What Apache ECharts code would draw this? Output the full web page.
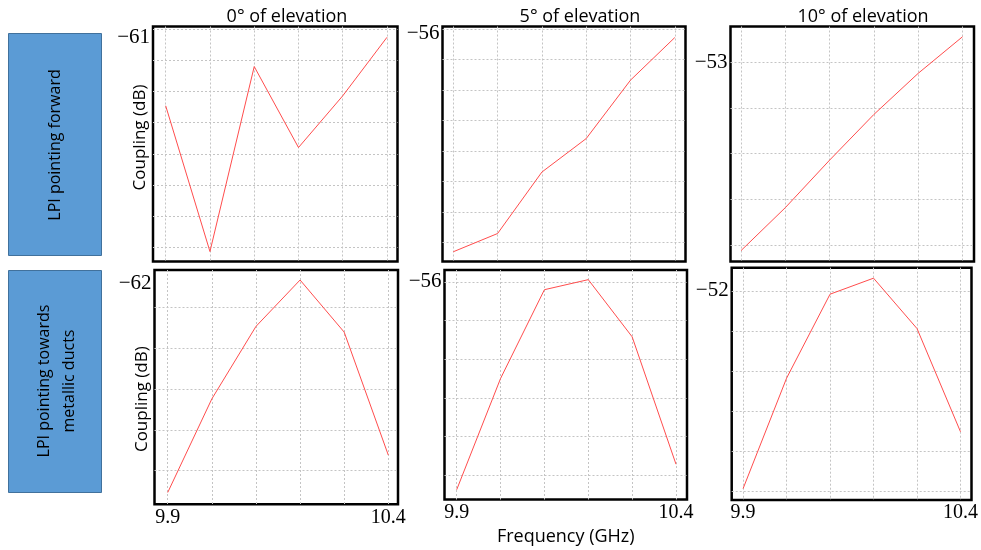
<!DOCTYPE html>
<html>
<head>
<meta charset="utf-8">
<script src="https://cdn.jsdelivr.net/npm/echarts@6/dist/echarts.min.js"></script>
<style>
html,body{margin:0;padding:0;background:#fff;}
#chart{width:981px;height:550px;}
</style>
</head>
<body>
<div id="chart"></div>
<script>
// ---- data ----
const freq = [9.9, 10.0, 10.1, 10.2, 10.3, 10.4];
const fwd0  = [-62.10, -64.44, -61.47, -62.77, -61.94, -61.00];
const fwd5  = [-59.59, -59.29, -58.28, -57.73, -56.77, -56.07];
const fwd10 = [-55.06, -54.59, -54.07, -53.57, -53.12, -52.72];
const duct0  = [-64.57, -63.42, -62.53, -61.96, -62.60, -64.11];
const duct5  = [-58.69, -57.25, -56.10, -55.97, -56.71, -58.36];
const duct10 = [-54.47, -53.09, -52.04, -51.84, -52.47, -53.76];

const titles = ['0° of elevation', '5° of elevation', '10° of elevation'];
const rowLabels = ['LPI pointing forward', 'LPI pointing towards\nmetallic ducts'];
const yLabelValues = [-61, -56, -53, -62, -56, -52];
const xLabelValues = [9.9, 10.4];
const yGridValues = [
  [-60.872, -61.372, -61.872, -62.372, -62.872, -63.372, -63.872, -64.372],
  [-55.934, -56.434, -56.934, -57.434, -57.934, -58.434, -58.934, -59.434],
  [-53, -53.5, -54, -54.5, -55],
  [-62.3, -62.8, -63.3, -63.8, -64.3],
  [-56, -56.5, -57, -57.5, -58, -58.5],
  [-52, -52.5, -53, -53.5, -54, -54.5]
];
const seriesData = [fwd0, fwd5, fwd10, duct0, duct5, duct10];

// ---- layout (positions / extents) ----
const panels = [
  {rect:[153,26.5,244.5,235], x:[9.8713,10.4237], y:[-64.600,-60.827]},
  {rect:[442.5,26.5,243,235], x:[9.8756,10.4242], y:[-59.750,-55.888]},
  {rect:[730.5,26.5,243.5,235], x:[9.8763,10.4259], y:[-55.179,-52.608]},
  {rect:[154.5,270,243.5,234.3], x:[9.870,10.422], y:[-64.715,-61.837]},
  {rect:[444.5,270,242.5,229.5], x:[9.8722,10.4251], y:[-58.817,-55.845]},
  {rect:[731.7,267.7,243.8,232.3], x:[9.8738,10.4253], y:[-54.6125,-51.709]}
];
const titleCenters = [282, 575, 858];

const serif = '"Liberation Serif", "DejaVu Serif", serif';
const sans = '"Open Sans", "Noto Sans", sans-serif';
const gridLineStyle = {color:'#c4c4c4', width:1, type:[2,2]};

const grids = [], xAxes = [], yAxes = [], series = [];
panels.forEach((p, i) => {
  const bottomRow = i >= 3;
  grids.push({left:p.rect[0], top:p.rect[1], width:p.rect[2], height:p.rect[3],
    show:true, borderColor:'#000', borderWidth:2.5, backgroundColor:'transparent', containLabel:false});
  xAxes.push({
    type:'value', gridIndex:i, min:p.x[0], max:p.x[1],
    axisLine:{show:false},
    axisTick:{show:false, customValues:freq},
    splitLine:{show:true, lineStyle:gridLineStyle},
    axisLabel:{show:bottomRow, customValues:xLabelValues, formatter:v=>v.toFixed(1),
      fontFamily:serif, fontSize:20, color:'#000', margin:3},
    name: i === 4 ? 'Frequency (GHz)' : '',
    nameLocation:'middle', nameGap:28, nameMoveOverlap:false,
    nameTextStyle:{fontFamily:sans, fontSize:18, color:'#000'}
  });
  yAxes.push({
    type:'value', gridIndex:i, min:p.y[0], max:p.y[1],
    axisLine:{show:false},
    axisTick:{show:false, customValues:yGridValues[i]},
    splitLine:{show:true, lineStyle:gridLineStyle},
    axisLabel:{show:true, customValues:[yLabelValues[i]], formatter:v=>'\u2212'+Math.abs(v),
      fontFamily:serif, fontSize:21, color:'#000', margin:3},
    name: (i === 0 || i === 3) ? 'Coupling (dB)' : '',
    nameLocation:'middle', nameRotate:90, nameGap:4, nameMoveOverlap:false,
    nameTextStyle:{fontFamily:sans, fontSize:17, color:'#000',
      padding: i === 0 ? [0,0,0,13] : [0,24,0,0]}
  });
  series.push({
    type:'line', xAxisIndex:i, yAxisIndex:i,
    data: freq.map((f, k) => [f, seriesData[i][k]]),
    symbol:'none', lineStyle:{color:'#ff4d4d', width:1}, silent:true
  });
});

const graphic = [
  {type:'rect', shape:{x:8.5, y:33.5, width:93, height:222}, style:{fill:'#5B9BD5', stroke:'#41719C', lineWidth:1}},
  {type:'rect', shape:{x:8.5, y:270.5, width:93, height:222}, style:{fill:'#5B9BD5', stroke:'#41719C', lineWidth:1}},
  {type:'text', x:55.5, y:145, rotation:Math.PI/2,
    style:{text:rowLabels[0], font:'16px ' + sans, fill:'#000', align:'center', verticalAlign:'middle'}},
  {type:'text', x:57, y:381, rotation:Math.PI/2,
    style:{text:rowLabels[1], font:'16px ' + sans, fill:'#000', align:'center', verticalAlign:'middle', lineHeight:25}}
];

const chart = echarts.init(document.getElementById('chart'), null, {renderer:'canvas'});
chart.setOption({
  animation:false,
  backgroundColor:'#fff',
  title: titles.map((t, i) => ({text:t, left:titleCenters[i], top:3, textAlign:'center',
    textStyle:{fontFamily:sans, fontSize:18, fontWeight:'normal', color:'#000'}})),
  grid: grids, xAxis: xAxes, yAxis: yAxes, series: series, graphic: graphic
});
</script>
</body>
</html>
